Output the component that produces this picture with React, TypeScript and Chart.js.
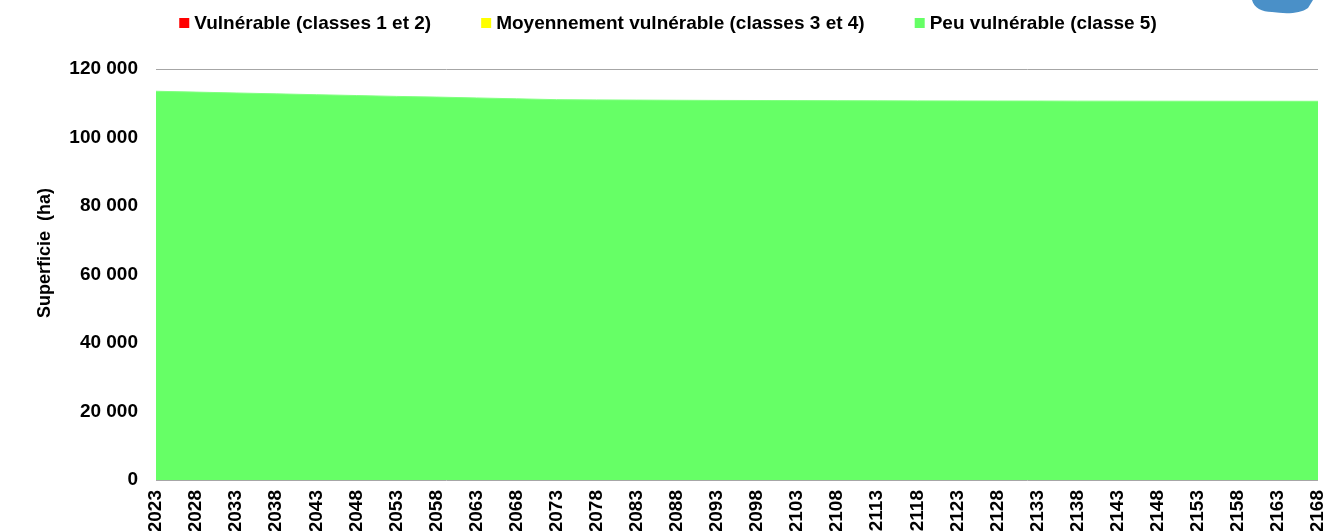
import React, { useEffect, useRef } from "react";
import { Chart, registerables } from "chart.js";

Chart.register(...registerables);

const years = [
  "2023", "2028", "2033", "2038", "2043", "2048", "2053", "2058", "2063", "2068",
  "2073", "2078", "2083", "2088", "2093", "2098", "2103", "2108", "2113", "2118",
  "2123", "2128", "2133", "2138", "2143", "2148", "2153", "2158", "2163", "2168",
];

const vulnerable = [
  0, 0, 0, 0, 0, 0, 0, 0, 0, 0,
  0, 0, 0, 0, 0, 0, 0, 0, 0, 0,
  0, 0, 0, 0, 0, 0, 0, 0, 0, 0,
];

const moyennement = [
  0, 0, 0, 0, 0, 0, 0, 0, 0, 0,
  0, 0, 0, 0, 0, 0, 0, 0, 0, 0,
  0, 0, 0, 0, 0, 0, 0, 0, 0, 0,
];

const peu = [
  113500, 113250, 113000, 112750, 112500, 112250, 112000, 111800, 111550, 111300,
  111050, 110980, 110920, 110870, 110830, 110800, 110770, 110740, 110710, 110690,
  110670, 110650, 110640, 110620, 110610, 110600, 110590, 110580, 110575, 110570,
];

const seriesNames = [
  "Vulnérable (classes 1 et 2)",
  "Moyennement vulnérable (classes 3 et 4)",
  "Peu vulnérable (classe 5)",
];
const seriesColors = ["#ff0000", "#ffff00", "#66ff66"];

const yTicks = [0, 20000, 40000, 60000, 80000, 100000, 120000];

const yTitle = "Superficie  (ha)";

const FONT = "'Liberation Sans', Arial, Helvetica, sans-serif";

function fmt(v: number): string {
  return String(Math.round(v)).replace(/\B(?=(\d{3})+(?!\d))/g, " ");
}

const legendPlugin = {
  id: "customLegend",
  afterDraw(chart: any) {
    const ctx = chart.ctx as CanvasRenderingContext2D;
    ctx.save();
    ctx.font = `bold 19px ${FONT}`;
    ctx.textBaseline = "middle";
    ctx.textAlign = "left";
    const box = 10;
    const gapText = 5;
    const gapItem = 50;
    const widths = seriesNames.map((n) => box + gapText + ctx.measureText(n).width);
    const total = widths.reduce((a, b) => a + b, 0) + gapItem * (seriesNames.length - 1);
    let x = 668 - total / 2;
    const y = 23;
    seriesNames.forEach((n, i) => {
      ctx.fillStyle = seriesColors[i];
      ctx.fillRect(x, y - 5, box, box);
      ctx.fillStyle = "#000000";
      ctx.fillText(n, x + box + gapText, y + 1);
      x += widths[i] + gapItem;
    });
    // y axis title
    ctx.save();
    ctx.translate(45, 253);
    ctx.rotate(-Math.PI / 2);
    ctx.textAlign = "center";
    ctx.font = `bold 18px ${FONT}`;
    ctx.fillText(yTitle, 0, 0);
    ctx.restore();
    // partial logo at top right corner
    ctx.fillStyle = "#4a90c8";
    ctx.beginPath();
    ctx.moveTo(1252, 0);
    ctx.bezierCurveTo(1254, 8, 1262, 12, 1272, 12);
    ctx.bezierCurveTo(1285, 14, 1300, 14, 1308, 8);
    ctx.lineTo(1313, 0);
    ctx.closePath();
    ctx.fill();
    ctx.restore();
  },
};

export default function App() {
  const ref = useRef<HTMLCanvasElement | null>(null);

  useEffect(() => {
    if (!ref.current) return;
    const chart = new Chart(ref.current, {
      type: "line",
      data: {
        labels: years,
        datasets: [
          {
            label: seriesNames[0],
            data: vulnerable,
            backgroundColor: seriesColors[0],
            borderColor: "rgba(0,0,0,0)",
            borderWidth: 0,
            pointRadius: 0,
            fill: "origin",
            tension: 0,
          },
          {
            label: seriesNames[1],
            data: moyennement,
            backgroundColor: seriesColors[1],
            borderColor: "rgba(0,0,0,0)",
            borderWidth: 0,
            pointRadius: 0,
            fill: "-1",
            tension: 0,
          },
          {
            label: seriesNames[2],
            data: peu,
            backgroundColor: seriesColors[2],
            borderColor: "#80ff80",
            borderWidth: 1,
            pointRadius: 0,
            fill: "-1",
            tension: 0,
          },
        ],
      },
      options: {
        responsive: false,
        animation: false,
        layout: { padding: { top: 69, right: 10, left: 0, bottom: 0 } },
        plugins: {
          legend: { display: false },
          tooltip: { enabled: false },
        },
        scales: {
          x: {
            offset: false,
            grid: { display: false },
            border: { display: false },
            ticks: {
              autoSkip: false,
              minRotation: 90,
              maxRotation: 90,
              padding: 2,
              color: "#000000",
              font: { family: FONT, size: 19, weight: "bold" },
            },
            afterFit(scale: any) {
              scale.height = 51;
              scale.paddingLeft = 0;
              scale.paddingRight = 0;
            },
          },
          y: {
            stacked: true,
            min: 0,
            max: 120000,
            afterBuildTicks(scale: any) {
              scale.ticks = yTicks.map((v) => ({ value: v }));
            },
            grid: { color: "#a6a6a6", lineWidth: 1, drawTicks: false },
            border: { display: false },
            ticks: {
              padding: 18,
              color: "#000000",
              font: { family: FONT, size: 19, weight: "bold" },
              callback: (v: any) => fmt(Number(v)),
            },
            afterFit(scale: any) {
              scale.width = 156;
            },
          },
        },
      },
      plugins: [legendPlugin],
    });
    return () => chart.destroy();
  }, []);

  return (
    <div style={{ position: "absolute", left: 0, top: 0, width: 1328, height: 531, background: "#ffffff" }}>
      <canvas ref={ref} width={1328} height={531} />
    </div>
  );
}
